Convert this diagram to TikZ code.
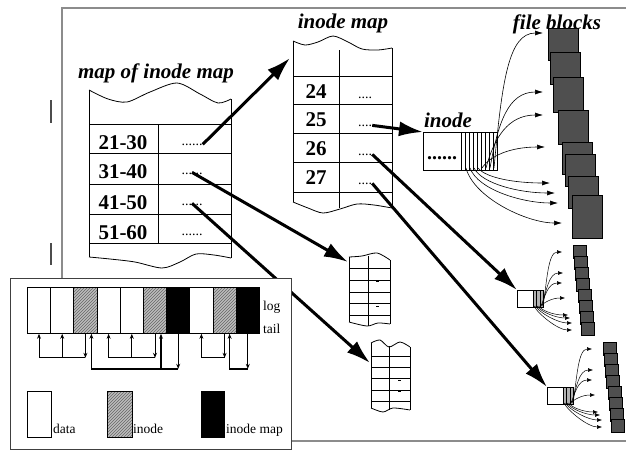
\documentclass[tikz,border=0pt]{standalone}
\usepackage{fontspec}
\setmainfont{Liberation Serif}
\usetikzlibrary{arrows.meta,patterns}
\definecolor{blockgray}{HTML}{4F4F4F}
\definecolor{framegray}{HTML}{8C8C8C}
\definecolor{hatchgray}{HTML}{BDBDBD}

\begin{document}
\begin{tikzpicture}[x=1pt, y=-1pt,
  title/.style={font=\fontsize{21}{23}\selectfont\bfseries\itshape, inner sep=0pt, anchor=base},
  num/.style={font=\fontsize{21}{23}\selectfont\bfseries, inner sep=0pt, anchor=base},
  dots/.style={font=\fontsize{14}{14}\selectfont, inner sep=0pt, anchor=base},
  note/.style={font=\fontsize{13.5}{14}\selectfont, inner sep=0pt, anchor=base west},
  tbl/.style={line width=0.8pt},
  bigarrow/.style={line width=3pt, -{Latex[length=24pt,width=15pt]}},
  fan/.style={line width=0.6pt, -{Latex[length=8pt,width=5pt]}},
  sfan/.style={line width=0.5pt, -{Latex[length=5pt,width=4pt]}},
  ptr/.style={line width=0.8pt, -{Stealth[length=5pt,width=4pt]}},
  block/.style={draw, fill=blockgray, line width=0.8pt, anchor=north west, inner sep=0pt},
  logseg/.style={draw, line width=0.8pt, anchor=north west, inner sep=0pt, minimum width=23.2pt, minimum height=46pt},
  hatched/.style={preaction={fill=hatchgray}, pattern=north east lines, pattern color=black!60},
  segdata/.style={fill=white},
  seginode/.style={hatched},
  segimap/.style={fill=black},
]
\useasboundingbox (0,0) rectangle (626,450);

% outer frame and marks
\draw[framegray, line width=1.5pt] (626,8) -- (62,8) -- (62,278);
\draw[framegray, line width=1.5pt] (291,441) -- (626,441);
\draw[black!70, line width=1.2pt] (51,100) -- (51,123);
\draw[black!70, line width=1.2pt] (51,243) -- (51,265);

% map of inode map
\node[title] (mimlabel) at (156,78) {map of inode map};
\draw[tbl] plot[smooth] coordinates {(89,90) (108,99) (127,102) (150,92) (177,83) (200,94) (218,103) (231,99)};
\draw[tbl] plot[smooth] coordinates {(89,257) (110,259) (135,262) (162,268) (180,262) (196,254) (214,255) (231,258)};
\draw[tbl] (89,90) -- (89,257);
\draw[tbl] (231,99) -- (231,258);
\foreach \y in {124,153,184,214,243}
  \draw[tbl] (89,\y) -- (231,\y);
\draw[tbl] (158,124) -- (158,243);
\foreach \lab/\y [count=\i] in {21-30/124, 31-40/153, 41-50/184, 51-60/214} {
  \node[num] (mk\i) at (123,\y+25) {\lab};
  \node[dots] (md\i) at (192,\y+21) {......};
}

% inode map
\node[title] (imlabel) at (343,28) {inode map};
\draw[tbl] plot[smooth] coordinates {(293,41) (305,45) (318,42) (333,36) (348,42) (362,49) (378,50) (392,48)};
\draw[tbl] plot[smooth] coordinates {(293,202) (308,208) (323,213) (340,209) (357,204) (374,205) (392,208)};
\draw[tbl] (293,41) -- (293,202);
\draw[tbl] (392,48) -- (392,208);
\foreach \y in {76,104,133,162,192}
  \draw[tbl] (293,\y) -- (392,\y);
\draw[tbl] (339,50) -- (339,208);
\foreach \lab/\y [count=\i] in {24/76, 25/104, 26/133, 27/162} {
  \node[num] (ik\i) at (316,\y+22) {\lab};
  \node[dots] (id\i) at (365,\y+22) {....};
}

% pieces of the inode map
\draw[tbl] plot[smooth] coordinates {(349,257) (362,256) (377,253) (390,260)};
\draw[tbl] plot[smooth] coordinates {(349,322) (367,326) (378,323) (390,324)};
\draw[tbl] (349,257) -- (349,322) (390,260) -- (390,324) (368,256) -- (368,326);
\foreach \y in {268,280,292,303,315}
  \draw[tbl] (349,\y) -- (390,\y);
\draw[line width=0.5pt] (376,281) -- (379,281) (376,306) -- (379,306);
\coordinate (pm1) at (348,262);

\draw[tbl] plot[smooth] coordinates {(371,343) (380,340) (389,347) (400,342) (410,347)};
\draw[tbl] plot[smooth] coordinates {(371,408) (383,412) (393,408) (410,410)};
\draw[tbl] (371,343) -- (371,408) (410,347) -- (410,410) (389,346) -- (389,410);
\foreach \y in {356,367,378,390,401}
  \draw[tbl] (371,\y) -- (410,\y);
\draw[line width=0.5pt] (398,380) -- (401,380) (398,391) -- (401,391);
\coordinate (pm2) at (370,363);

% inode
\node[title] (inodelabel) at (448,127) {inode};
\node[draw, fill=white, line width=0.8pt, minimum width=38pt, minimum height=38pt, anchor=north west, inner sep=0pt] (inode) at (423,132) {};
\node[dots, font=\fontsize{20}{20}\selectfont\bfseries] (idots) at (442,159) {......};
\node[draw, fill=white, line width=0.8pt, minimum width=36pt, minimum height=38pt, anchor=north west, inner sep=0pt] (iptr) at (461,132) {};
\foreach \x in {465,469,...,493}
  \draw[line width=0.5pt] (\x,132) -- (\x,170);

% file blocks
\node[title] (fblabel) at (557,29) {file blocks};
\foreach \x/\y/\h [count=\i] in {548/28/32, 550/52/32, 553/77/35, 558/110/34, 562/142/32, 565/154/32, 568/176/32, 572/195/43}
  \node[block, minimum width=30pt, minimum height=\h pt] (b\i) at (\x,\y) {};
\foreach \sx/\tx/\ty/\cy [count=\i] in {466/562/223/30, 470/558/203/22, 474/555/193/16, 478/550/183/10, 482/545/147/-12, 486/543/115/-30, 490/543/92/-45, 494/543/33/-85} {
  \coordinate (fs\i) at (\sx,168);
  \coordinate (ft\i) at (\tx,\ty);
  \draw[fan] (fs\i) .. controls +(8,\cy) and +(-35,0) .. (ft\i);
}

% small inodes with their blocks
\foreach \n/\ox/\oy in {1/517/290, 2/547/387} {
  \begin{scope}[shift={(\ox,\oy)}]
    \node[draw, fill=white, line width=0.6pt, minimum width=16pt, minimum height=17pt, anchor=north west, inner sep=0pt] (sin\n) at (0,0) {};
    \node[draw, fill=gray!60, line width=0.6pt, minimum width=10pt, minimum height=17pt, anchor=north west, inner sep=0pt] (sptr\n) at (16,0) {};
    \draw[line width=1pt] (19.5,0) -- (19.5,17) (23,0) -- (23,17);
    \foreach \i in {1,...,8}
      \node[block, minimum size=13pt, line width=0.5pt] (sb\n-\i) at ({55+1.1*\i},{-56+11*\i}) {};
    \foreach \sx/\tx/\ty/\cy [count=\i] in {17/55/40/8, 18.5/55/33/7, 20/53/28/6, 21.5/51/25/5, 23/48/8/-3, 24/45/-7/-10, 25/46/-17/-15, 26/45/-38/-25} {
      \coordinate (ss\n-\i) at (\sx,16);
      \coordinate (st\n-\i) at (\tx,\ty);
      \draw[sfan] (ss\n-\i) .. controls +(4,\cy) and +(-14,0) .. (st\n-\i);
    }
  \end{scope}
}

% thick pointers
\coordinate (imtip) at (290,58);
\draw[bigarrow] (md1.east) -- (imtip);
\draw[bigarrow] (md2.north) -- (pm1);
\draw[bigarrow] (md3.north) -- (pm2);
\draw[bigarrow] (id2.east) -- (inode.north west);
\draw[bigarrow] (id3.east) -- (sin1.north west);
\draw[bigarrow] (id4.east) -- (sin2.north west);

% log inset
\draw[draw=black!75, fill=white, line width=1pt] (10,278) rectangle (291,449);
\foreach \kind [count=\i] in {segdata,segdata,seginode,segdata,segdata,seginode,segimap,segdata,seginode,segimap}
  \node[logseg,\kind] (l\i) at ({27+23.2*(\i-1)},287) {};
\node[note] (loglabel) at (263,310) {log};
\node[note] (taillabel) at (263,333) {tail};

\draw[ptr] (l3.south) -- ([yshift=-24pt]l3.south);
\draw[ptr] ([yshift=-24pt]l3.south) -| (l1.south);
\draw[ptr] ([yshift=-24pt]l2.south) -- (l2.south);
\draw[ptr] (l6.south) -- ([yshift=-24pt]l6.south);
\draw[ptr] ([yshift=-24pt]l6.south) -| (l4.south);
\draw[ptr] ([yshift=-24pt]l5.south) -- (l5.south);
\draw[ptr] (l7.south) -- ([yshift=-35pt]l7.south);
\draw[ptr, line width=1.5pt] ([yshift=-35pt]l7.south) -| ([xshift=6pt]l3.south);
\draw[ptr, line width=1.5pt] ([xshift=6pt,yshift=-35pt]l6.south) -- ([xshift=6pt]l6.south);
\draw[ptr] (l9.south) -- ([yshift=-24pt]l9.south);
\draw[ptr] ([yshift=-24pt]l9.south) -| (l8.south);
\draw[ptr] (l10.south) -- ([yshift=-35pt]l10.south);
\draw[ptr, line width=1.5pt] ([yshift=-35pt]l10.south) -| ([xshift=5pt]l9.south);

\node[logseg, segdata, minimum width=24pt] (kdata) at (27,391) {};
\node[note] (tdata) at (53,433) {data};
\node[logseg, seginode, minimum width=25pt] (kinode) at (107,391) {};
\node[note] (tinode) at (133,433) {inode};
\node[logseg, segimap] (kimap) at (201,391) {};
\node[note] (timap) at (226,433) {inode map};
\end{tikzpicture}
\end{document}
